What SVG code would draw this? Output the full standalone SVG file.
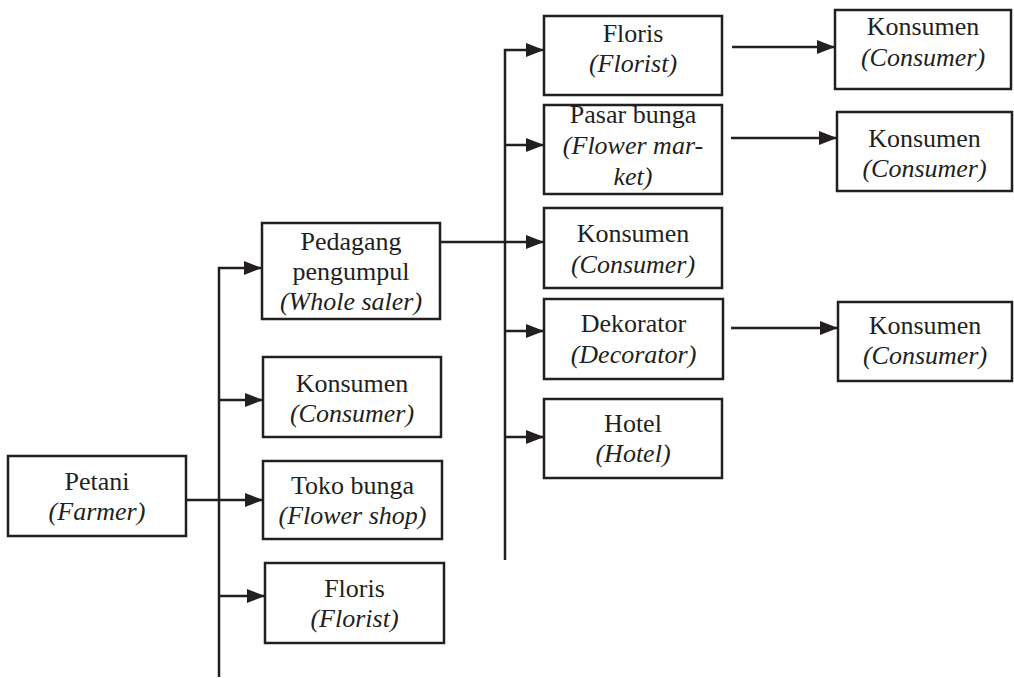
<svg xmlns="http://www.w3.org/2000/svg" width="1014" height="678" viewBox="0 0 1014 678">
<style>
.box{fill:#fff;stroke:#231f20;stroke-width:2.5}
.t{font-family:'Liberation Serif','Times New Roman',Times,'DejaVu Serif',serif;font-size:26px;fill:#231f20;text-anchor:middle}
.i{font-style:italic}
.ln{stroke:#231f20;stroke-width:2.5;fill:none}
.ar{stroke:#231f20;stroke-width:2.5;fill:none;marker-end:url(#ah)}
</style>
<defs>
<marker id="ah" markerUnits="userSpaceOnUse" markerWidth="18" markerHeight="14" refX="18" refY="7" orient="auto">
<path d="M0,0 L18,7 L0,14 z" fill="#231f20"/>
</marker>
</defs>
<rect width="1014" height="678" fill="#fff"/>
<g id="connectors">
<line class="ln" x1="219" y1="267" x2="219" y2="677"/>
<line class="ar" x1="218" y1="268" x2="262" y2="268"/>
<line class="ar" x1="219" y1="400" x2="263" y2="400"/>
<line class="ar" x1="186" y1="500" x2="263" y2="500"/>
<line class="ar" x1="219" y1="596" x2="265" y2="596"/>
<line class="ln" x1="505" y1="49" x2="505" y2="560"/>
<line class="ar" x1="504" y1="50" x2="544" y2="50"/>
<line class="ar" x1="505" y1="145" x2="544" y2="145"/>
<line class="ar" x1="440" y1="242" x2="544" y2="242"/>
<line class="ar" x1="505" y1="331" x2="544" y2="331"/>
<line class="ar" x1="505" y1="437" x2="544" y2="437"/>
<line class="ar" x1="732" y1="47" x2="835" y2="47"/>
<line class="ar" x1="731" y1="138" x2="837" y2="138"/>
<line class="ar" x1="731" y1="328" x2="838" y2="328"/>
</g>
<g id="petani">
<rect class="box" x="8" y="456" width="178" height="80"/>
<text class="t" x="97" y="490">Petani</text>
<text class="t i" x="97" y="520">(Farmer)</text>
</g>
<g id="pedagang">
<rect class="box" x="262" y="223" width="178" height="96"/>
<text class="t" x="351" y="250">Pedagang</text>
<text class="t" x="351" y="280">pengumpul</text>
<text class="t i" x="351" y="310">(Whole saler)</text>
</g>
<g id="konsumen1">
<rect class="box" x="263" y="357" width="178" height="80"/>
<text class="t" x="352" y="392">Konsumen</text>
<text class="t i" x="352" y="422">(Consumer)</text>
</g>
<g id="toko">
<rect class="box" x="263" y="461" width="179" height="78"/>
<text class="t" x="352.5" y="494">Toko bunga</text>
<text class="t i" x="352.5" y="524">(Flower shop)</text>
</g>
<g id="floris1">
<rect class="box" x="265" y="563" width="179" height="80"/>
<text class="t" x="354.5" y="597">Floris</text>
<text class="t i" x="354.5" y="627">(Florist)</text>
</g>
<g id="floris2">
<rect class="box" x="544" y="16" width="178" height="79"/>
<text class="t" x="633" y="42">Floris</text>
<text class="t i" x="633" y="72">(Florist)</text>
</g>
<g id="pasar">
<rect class="box" x="544" y="105" width="178" height="89"/>
<text class="t" x="633" y="123">Pasar bunga</text>
<text class="t i" x="633" y="154">(Flower mar-</text>
<text class="t i" x="633" y="185">ket)</text>
</g>
<g id="konsumen2">
<rect class="box" x="544" y="208" width="178" height="80"/>
<text class="t" x="633" y="242">Konsumen</text>
<text class="t i" x="633" y="273">(Consumer)</text>
</g>
<g id="dekorator">
<rect class="box" x="544" y="299" width="179" height="80"/>
<text class="t" x="633.5" y="332">Dekorator</text>
<text class="t i" x="633.5" y="363">(Decorator)</text>
</g>
<g id="hotel">
<rect class="box" x="544" y="399" width="178" height="79"/>
<text class="t" x="633" y="432">Hotel</text>
<text class="t i" x="633" y="462">(Hotel)</text>
</g>
<g id="konsumenR1">
<rect class="box" x="835" y="10" width="176" height="79"/>
<text class="t" x="923" y="35">Konsumen</text>
<text class="t i" x="923" y="66">(Consumer)</text>
</g>
<g id="konsumenR2">
<rect class="box" x="837" y="112" width="175" height="79"/>
<text class="t" x="924.5" y="147">Konsumen</text>
<text class="t i" x="924.5" y="177">(Consumer)</text>
</g>
<g id="konsumenR3">
<rect class="box" x="838" y="302" width="174" height="79"/>
<text class="t" x="925" y="334">Konsumen</text>
<text class="t i" x="925" y="364">(Consumer)</text>
</g>
</svg>
